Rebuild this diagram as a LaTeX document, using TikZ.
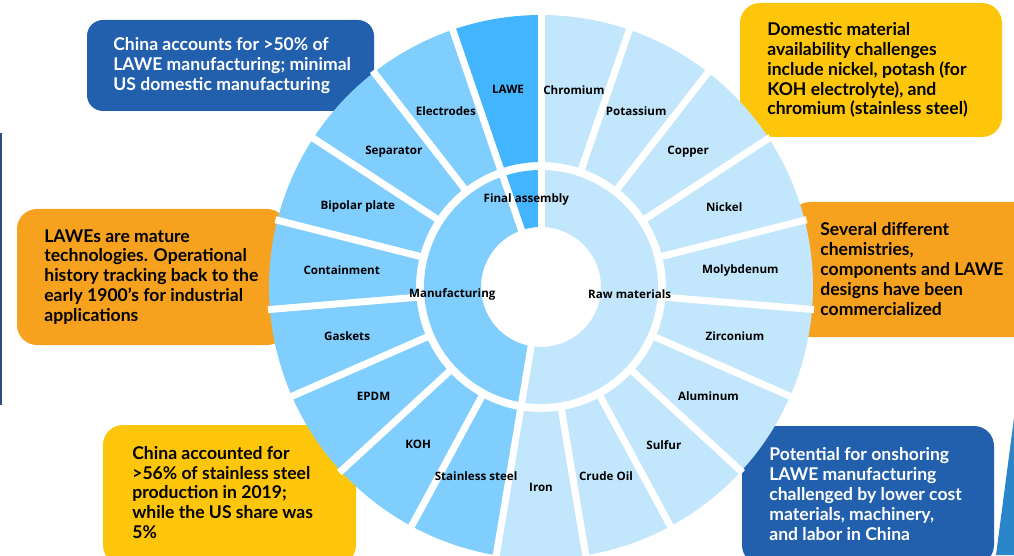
\documentclass[tikz,border=0pt]{standalone}
\usepackage{fontspec}
\setmainfont{Lato}
\newfontfamily\segfont{Open Sans}
\definecolor{rawblue}{HTML}{C2E6FC}
\definecolor{makeblue}{HTML}{80CEFE}
\definecolor{finalblue}{HTML}{42B5FE}
\definecolor{boxblue}{HTML}{2260AD}
\definecolor{boxorange}{HTML}{F6A21E}
\definecolor{boxyellow}{HTML}{FEC60A}
\definecolor{edgenavy}{HTML}{2F4C7A}
\definecolor{cornerblue}{HTML}{2A86C8}

\begin{document}
\begin{tikzpicture}[x=0.02cm, y=0.02cm,
    callout/.style={anchor=west, align=left, inner sep=0pt, font=\bfseries\fontsize{10}{11.34}\selectfont},
    seglabel/.style={inner sep=0pt, font=\segfont\bfseries\fontsize{6.6}{8}\selectfont},
    gap/.style={white, line width=0.14cm}]
  \useasboundingbox (0,0) rectangle (1014,555);
  \clip (0,0) rectangle (1014,555);

  % slide edges
  \fill [edgenavy] (0,422) rectangle (2,150);
  \fill [cornerblue] (1014,137) -- (996,0) -- (1014,0) -- cycle;

  % callout boxes (behind the ring)
  \fill [boxblue, rounded corners=0.32cm] (87,535) rectangle (374,444);
  \node[callout, text=white] (chinashare) at (113,489.5) {China accounts for >50\% of\\LAWE manufacturing; minimal\\US domestic manufacturing};
  \fill [boxorange, rounded corners=0.4cm] (17,346) rectangle (287,210);
  \node[callout] (mature) at (44,278) {LAWEs are mature\\technologies. Operational\\history tracking back to the\\early 1900’s for industrial\\applications};
  \fill [boxyellow, rounded corners=0.4cm] (740,552) rectangle (1002,418);
  \node[callout] (domestic) at (767,485) {Domestic material\\availability challenges\\include nickel, potash (for\\KOH electrolyte), and\\chromium (stainless steel)};
  \fill [boxorange, rounded corners=0.4cm] (790,353) rectangle (1040,218);
  \node[callout] (chemistries) at (820,286) {Several different\\chemistries,\\components and LAWE\\designs have been\\commercialized};
  \fill [boxyellow, rounded corners=0.4cm] (103,130) rectangle (356,-10);
  \node[callout] (steel) at (132,62.5) {China accounted for\\>56\% of stainless steel\\production in 2019;\\while the US share was\\5\%};
  \fill [boxblue, rounded corners=0.4cm] (742,129) rectangle (994,-10);
  \node[callout, text=white] (onshoring) at (769,61) {Potential for onshoring\\LAWE manufacturing\\challenged by lower cost\\materials, machinery,\\and labor in China};

  \begin{scope}[shift={(541,268)}]
    % inner ring
    \fill [finalblue] (90:117) arc[start angle=90, end angle=108.947, radius=117] -- (108.947:60) arc[start angle=108.947, end angle=90, radius=60] -- cycle;
    \fill [makeblue] (108.947:117) arc[start angle=108.947, end angle=260.526, radius=117] -- (260.526:60) arc[start angle=260.526, end angle=108.947, radius=60] -- cycle;
    \fill [rawblue] (260.526:117) arc[start angle=260.526, end angle=450, radius=117] -- (90:60) arc[start angle=450, end angle=260.526, radius=60] -- cycle;
    \foreach \a in {90,108.947,260.526}
      \draw [gap] (\a:58) -- (\a:119);

    % outer ring
    \foreach \col [count=\k from 0] in {rawblue,rawblue,rawblue,rawblue,rawblue,rawblue,rawblue,rawblue,rawblue,rawblue,
        makeblue,makeblue,makeblue,makeblue,makeblue,makeblue,makeblue,makeblue,finalblue} {
      \pgfmathsetmacro\a{90-\k*360/19}
      \pgfmathsetmacro\b{\a-360/19}
      \fill [\col] (\a:272) arc[start angle=\a, end angle=\b, radius=272] -- (\b:125) arc[start angle=\b, end angle=\a, radius=125] -- cycle;
    }
    \foreach \k in {0,...,18} {
      \pgfmathsetmacro\a{90-\k*360/19}
      \draw [gap] (\a:123) -- (\a:274);
    }

    % labels
    \foreach \lbl [count=\k from 0] in {Chromium,Potassium,Copper,Nickel,Molybdenum,Zirconium,Aluminum,Sulfur,Crude Oil,Iron,
        Stainless steel,KOH,EPDM,Gaskets,Containment,Bipolar plate,Separator,Electrodes,LAWE} {
      \pgfmathsetmacro\m{90-(\k+0.5)*360/19}
      \node[seglabel] (seg\k) at (\m:200) {\lbl};
    }
    \node[seglabel] (final) at (99.47:89) {Final assembly};
    \node[seglabel] (making) at (184.74:89) {Manufacturing};
    \node[seglabel] (raw) at (-4.74:89) {Raw materials};
  \end{scope}
\end{tikzpicture}
\end{document}
